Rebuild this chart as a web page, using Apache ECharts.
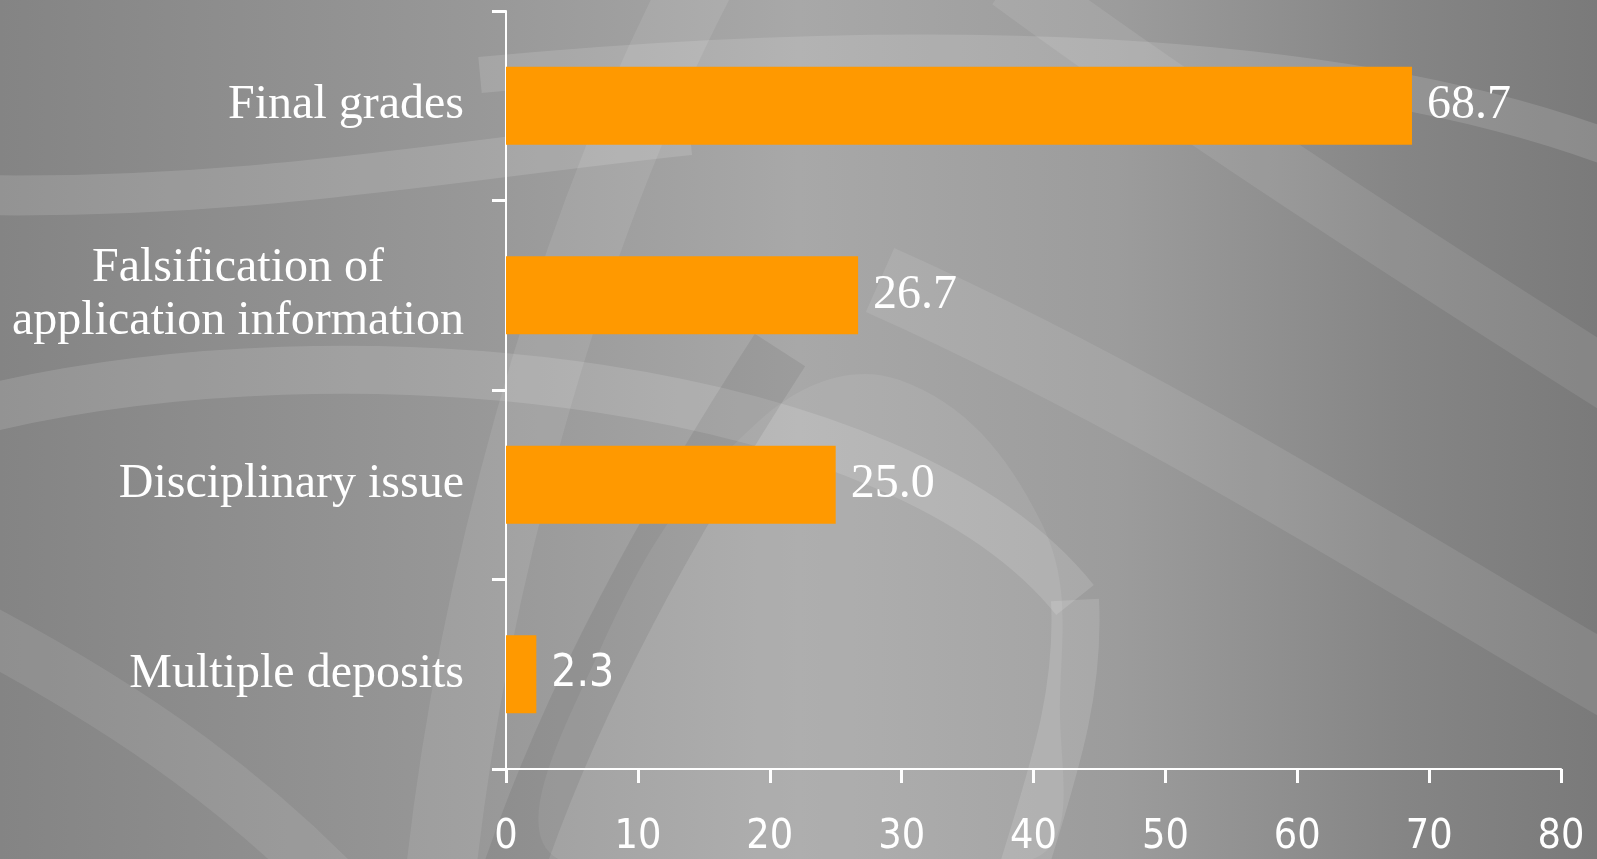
<!DOCTYPE html>
<html>
<head>
<meta charset="utf-8">
<script src="https://cdn.jsdelivr.net/npm/echarts@6/dist/echarts.min.js"></script>
<style>
html,body{margin:0;padding:0;width:1597px;height:859px;overflow:hidden;}
body{background:linear-gradient(90deg,#848484 0%,#989898 30%,#a8a8a8 50%,#9c9c9c 70%,#858585 88%,#7a7a7a 100%);}
#chart{width:1597px;height:859px;}
</style>
</head>
<body>
<div id="chart"></div>
<script>
// ---- data ----
const categories = ["Final grades", "Falsification of\napplication information", "Disciplinary issue", "Multiple deposits"];
const values = [68.7, 26.7, 25.0, 2.3];
const xTicks = [0, 10, 20, 30, 40, 50, 60, 70, 80];

const chart = echarts.init(document.getElementById('chart'), null, {renderer: 'canvas'});

function band(x1, y1, cx1, cy1, cx2, cy2, x2, y2, w, color) {
  return {
    type: 'bezierCurve', silent: true, z: -10,
    shape: {x1: x1, y1: y1, cpx1: cx1, cpy1: cy1, cpx2: cx2, cpy2: cy2, x2: x2, y2: y2},
    style: {stroke: color, lineWidth: w, fill: null}
  };
}
const L = 'rgba(255,255,255,0.13)';
const L2 = 'rgba(255,255,255,0.09)';
const D = 'rgba(0,0,0,0.07)';

const option = {
  backgroundColor: 'transparent',
  animation: false,
  graphic: [
    // decorative background swirls
    band(-30, 195, 250, 200, 450, 160, 690, 135, 40, L),
    band(480, 75, 900, 35, 1350, 40, 1640, 160, 36, L),
    band(1010, -20, 1200, 120, 1450, 280, 1640, 400, 60, L2),
    band(880, 280, 1150, 400, 1400, 560, 1640, 700, 70, L2),
    band(-20, 410, 350, 320, 900, 380, 1075, 600, 48, L),
    band(1075, 600, 1080, 700, 1050, 780, 1020, 880, 48, L),
    band(700, -20, 560, 250, 470, 600, 440, 880, 70, L2),
    band(780, 350, 670, 520, 570, 700, 510, 880, 60, D),
    band(-20, 630, 150, 720, 250, 800, 330, 880, 55, L2),
    {
      type: 'polygon', silent: true, z: -11,
      shape: {smooth: 0.4, points: [[560, 860], [600, 650], [760, 420], [900, 380], [1040, 520], [1060, 700], [1030, 860]]},
      style: {fill: 'rgba(255,255,255,0.08)'}
    }
  ],
  grid: {left: 506, right: 36, top: 11, bottom: 90, containLabel: false},
  xAxis: {
    type: 'value', min: xTicks[0], max: xTicks[xTicks.length - 1], interval: 10,
    axisLine: {show: true, lineStyle: {color: '#ffffff', width: 2}},
    axisTick: {show: true, length: 14, lineStyle: {color: '#ffffff', width: 3}},
    splitLine: {show: false},
    axisLabel: {
      color: '#ffffff', fontFamily: 'DejaVu Sans Condensed', fontSize: 41, lineHeight: 43, margin: 47
    }
  },
  yAxis: {
    type: 'category', inverse: true, data: categories,
    axisLine: {show: true, lineStyle: {color: '#ffffff', width: 2}},
    axisTick: {show: true, length: 14, lineStyle: {color: '#ffffff', width: 3}},
    axisLabel: {
      color: '#ffffff', fontFamily: 'Liberation Serif', fontSize: 48, lineHeight: 53, margin: 42,
      formatter: function (v) {
        if (v.indexOf('\n') >= 0) {
          return v.split('\n').map(function (s) { return '{c|' + s + '}'; }).join('\n');
        }
        return v;
      },
      rich: {c: {width: 452, align: 'center', color: '#ffffff', fontFamily: 'Liberation Serif', fontSize: 48, lineHeight: 53}}
    }
  },
  series: [{
    type: 'bar',
    barWidth: 78,
    itemStyle: {color: '#FF9900'},
    label: {
      show: true, position: 'right', distance: 15, color: '#ffffff',
      fontFamily: 'Liberation Serif', fontSize: 48,
      formatter: function (p) { return p.value.toFixed(1); }
    },
    data: values.map(function (v, i) {
      if (i === values.length - 1) {
        return {value: v, label: {fontFamily: 'DejaVu Sans Condensed', fontSize: 44}};
      }
      return v;
    })
  }]
};
chart.setOption(option);
</script>
</body>
</html>
